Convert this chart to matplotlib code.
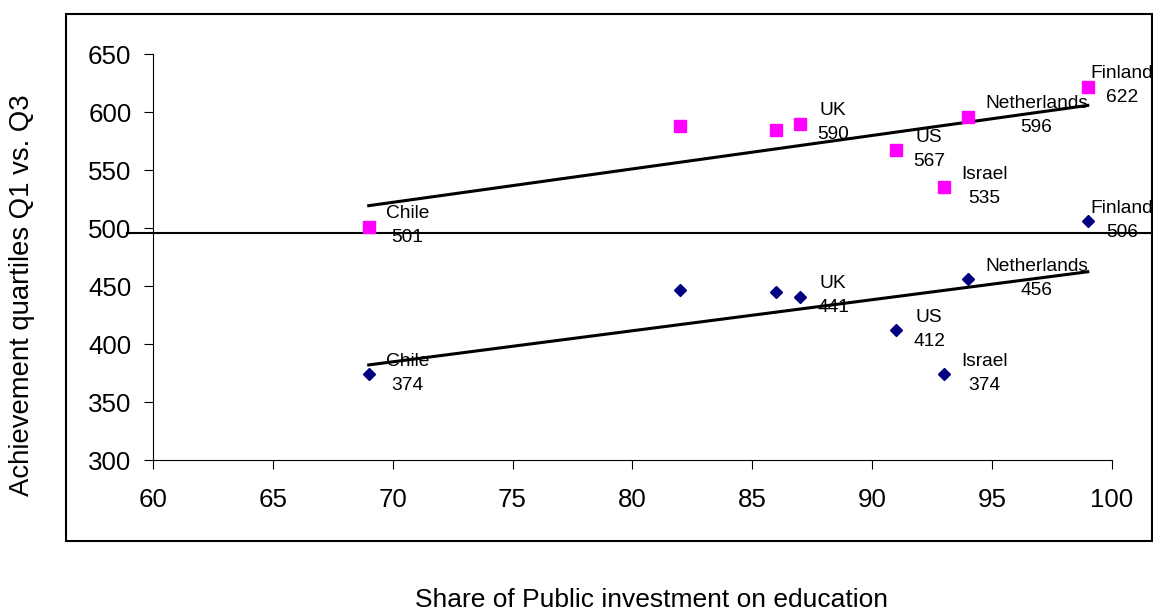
import numpy as np
import matplotlib
matplotlib.use("Agg")
import matplotlib.pyplot as plt
from matplotlib.patches import Rectangle

plt.rcParams['font.family'] = ['Liberation Sans', 'DejaVu Sans']

# ---- data ----
share = [69, 82, 86, 87, 91, 93, 94, 99]
countries = ['Chile', '', '', 'UK', 'US', 'Israel', 'Netherlands', 'Finland']
q3_scores = [501, 588, 585, 590, 567, 535, 596, 622]
q1_scores = [374, 447, 445, 441, 412, 374, 456, 506]
reference_level = 496
x_ticks = [60, 65, 70, 75, 80, 85, 90, 95, 100]
y_ticks = [300, 350, 400, 450, 500, 550, 600, 650]

fig = plt.figure(figsize=(11.53, 6.15), dpi=100)
fig.patch.set_facecolor('white')

# outer chart-area border
fig.patches.append(Rectangle((0.0572, 0.1203), 0.9419, 0.8567, transform=fig.transFigure,
                             fill=False, edgecolor='black', linewidth=1.5))

ax = fig.add_axes([0.1327, 0.252, 0.8315, 0.660])
ax.set_facecolor('none')

x = np.array(share, dtype=float)
for scores, color, marker, ms in [(q3_scores, '#FF00FF', 's', 8.0), (q1_scores, '#000080', 'D', 6.2)]:
    y = np.array(scores, dtype=float)
    ax.plot(x, y, linestyle='none', marker=marker, markersize=ms, color=color, zorder=3)
    slope, intercept = np.polyfit(x, y, 1)
    xx = np.array([x.min(), x.max()])
    ax.plot(xx, slope * xx + intercept, color='black', linewidth=2.2, zorder=2)
    for xi, yi, name in zip(share, scores, countries):
        if not name:
            continue
        dx = 3 if name == 'Finland' else 17
        ax.annotate(f"{name}\n{yi}", xy=(xi, yi), xytext=(dx, 1), textcoords='offset pixels',
                    ha='left', va='center', multialignment='center', fontsize=13.8,
                    linespacing=1.55, annotation_clip=False, zorder=4)

# reference horizontal line extending past the plot area
ax.plot([-0.027, 1.04], [reference_level, reference_level], color='black', linewidth=1.5,
        transform=ax.get_yaxis_transform(), clip_on=False, zorder=2)

ax.set_xlim(60, 100)
ax.set_ylim(300, 650)
ax.set_xticks(x_ticks)
ax.set_yticks(y_ticks)
ax.tick_params(axis='both', direction='out', length=6.5, width=0.8, labelsize=18.6, colors='black')
ax.tick_params(axis='x', pad=14)
ax.tick_params(axis='y', pad=9)
for s in ['top', 'right']:
    ax.spines[s].set_visible(False)
for s in ['left', 'bottom']:
    ax.spines[s].set_linewidth(0.8)

fig.text(0.5650, 0.024, 'Share of Public investment on education', ha='center', va='center', fontsize=19)
fig.text(0.0195, 0.52, 'Achievement quartiles Q1 vs. Q3', ha='center', va='center', rotation=90, fontsize=19.8)

fig.savefig('out.png', dpi=100)
